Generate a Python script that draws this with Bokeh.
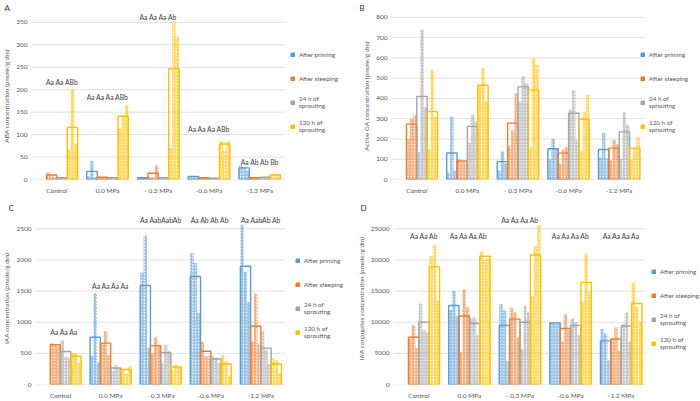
import math
from bokeh.plotting import figure
from bokeh.models import (ColumnDataSource, Range1d, FixedTicker, Legend, LegendItem, LabelSet)
from bokeh.layouts import column, row
from bokeh.embed import file_html
from bokeh.resources import INLINE
from bokeh.core.properties import value

nan = float("nan")
N3 = [nan, nan, nan]

categories = ["Control", "0.0 MPa", "- 0.3 MPa", "-0.6 MPa", "-1.2 MPa"]
series = ["After priming", "After steeping", "24 h of\nsprouting", "120 h of\nsprouting"]
colors = ["#5B9BD5", "#ED7D31", "#A5A5A5", "#FFC000"]

# ---- Panel A: ABA ----
aba_mean_priming = [nan, 18, 4, 7, 26]
aba_mean_steeping = [10, 5, 14, 4, 4]
aba_mean_24h = [4, 4, 4, 3, 5]
aba_mean_120h = [116, 141, 247, 79, 10]
aba_reps_priming = [N3, [8, 41, 5], [4, 4, 4], [8, 7, 6], [32, 27, 20]]
aba_reps_steeping = [[16, 9, 5], [6, 5, 4], [6, 5, 31], [4, 4, 4], [4, 4, 4]]
aba_reps_24h = [[4, 4, 4], [4, 4, 4], [4, 4, 4], [3, 3, 3], [5, 5, 5]]
aba_reps_120h = [[67, 201, 80], [114, 143, 166], [70, 352, 318], [86, 65, 86], [10, 10, 10]]
aba_letters = ["Aa Aa ABb", "Aa Aa Aa ABb", "Aa Aa Aa Ab", "Aa Aa Aa ABb", "Aa Ab Ab Bb"]
aba_letter_y = [218, 184, 362, 112, 39]

# ---- Panel B: active GA ----
ga_mean_priming = [nan, 131, 88, 152, 148]
ga_mean_steeping = [273, 92, 278, 130, 155]
ga_mean_24h = [410, 262, 457, 327, 235]
ga_mean_120h = [335, 465, 442, 297, 155]
ga_reps_priming = [N3, [35, 310, 45], [45, 140, 80], [100, 200, 156], [110, 230, 105]]
ga_reps_steeping = [[200, 300, 320], [100, 90, 88], [165, 243, 425], [80, 148, 162], [95, 195, 175]]
ga_reps_24h = [[135, 740, 355], [180, 320, 286], [385, 510, 475], [345, 440, 196], [103, 332, 270]]
ga_reps_120h = [[150, 540, 310], [460, 550, 385], [160, 600, 565], [140, 333, 418], [100, 155, 210]]

# ---- Panel C: IAA ----
iaa_mean_priming = [nan, 760, 1590, 1735, 1900]
iaa_mean_steeping = [640, 665, 625, 535, 935]
iaa_mean_24h = [530, 265, 510, 410, 585]
iaa_mean_120h = [455, 240, 280, 330, 330]
iaa_reps_priming = [N3, [460, 1465, 355], [1800, 2396, 585], [2112, 1951, 1144], [2565, 1810, 1325]]
iaa_reps_steeping = [[660, 640, 625], [665, 860, 470], [500, 760, 615], [690, 455, 460], [690, 1460, 655]]
iaa_reps_24h = [[710, 450, 430], [220, 310, 265], [350, 640, 540], [460, 420, 345], [865, 560, 330]]
iaa_reps_120h = [[515, 500, 350], [250, 175, 295], [230, 320, 290], [465, 375, 150], [420, 390, 180]]
iaa_letters = ["Aa  Aa  Aa", "Aa Aa Aa Aa", "Aa AabAabAb", "Aa  Ab Ab Ab", "Aa AabAb Ab"]
iaa_letter_y = [844, 1579, 2645, 2645, 2645]

# ---- Panel D: IAA conjugates ----
conj_mean_priming = [nan, 12700, 9500, 9900, 7000]
conj_mean_steeping = [7600, 11000, 10500, 9000, 7300]
conj_mean_24h = [10000, 9800, 10000, 9500, 9400]
conj_mean_120h = [18900, 20600, 20800, 16400, 13000]
conj_reps_priming = [N3, [12000, 15000, 11100], [12900, 11900, 3700], [10000, 9800, 9900], [8900, 8200, 3900]]
conj_reps_steeping = [[7300, 9600, 5900], [5200, 15300, 12400], [12300, 11600, 7600], [6900, 11300, 8800], [7300, 9200, 5400]]
conj_reps_24h = [[13000, 8700, 8300], [10700, 10800, 7900], [5700, 12700, 11600], [10600, 10000, 7900], [9700, 11600, 6900]]
conj_reps_120h = [[20600, 22500, 13500], [21500, 20000, 20300], [14200, 22200, 25600], [13300, 21000, 14900], [16400, 12500, 10100]]
conj_letters = ["Aa Aa Ab", "Aa Aa  Aa Ab", "Aa Aa Aa Ab", "Aa Aa Aa Ab", "Aa Aa Aa Aa"]
conj_letter_y = [23900, 23900, 26450, 23900, 23900]

FONT = "Lato"
BAR_W = 0.205
OFFS = [(j - 1.5) * BAR_W for j in range(4)]
NCAT = len(categories)


def make_panel(tag, ylabel, ymax, ystep, yend, means, reps, letters, letter_y, geom):
    (fw, fh, bl, bt, bb, cat_right, leg_x, leg_y, tag_off) = geom
    # frame spans to the figure's right edge; the category area ends at cat_right,
    # the remaining strip holds the legend
    x_end = NCAT - 0.5 + (fw - cat_right) * NCAT / (cat_right - bl)
    p = figure(width=fw, height=fh, x_range=Range1d(-0.5, x_end), y_range=Range1d(0, yend),
               output_backend="svg", toolbar_location=None, min_border=0,
               min_border_left=bl, min_border_right=0, min_border_top=bt, min_border_bottom=bb)
    p.outline_line_color = None
    p.xgrid.grid_line_color = None
    p.ygrid.grid_line_color = None

    ticks = list(range(0, ymax + 1, ystep))
    p.segment(x0=[-0.5] * len(ticks), x1=[NCAT - 0.5] * len(ticks), y0=ticks, y1=ticks,
              line_color="#D9D9D9", line_width=0.8)

    p.title.text = tag
    p.title.align = "left"
    p.title.offset = tag_off
    p.title.standoff = 0
    p.title.text_font = FONT
    p.title.text_font_size = "8px"
    p.title.text_font_style = "normal"
    p.title.text_color = "#333333"

    p.yaxis.ticker = FixedTicker(ticks=ticks)
    p.xaxis.ticker = FixedTicker(ticks=list(range(NCAT)))
    p.xaxis.major_label_overrides = {i: c for i, c in enumerate(categories)}
    for ax in (p.xaxis[0], p.yaxis[0]):
        ax.major_tick_line_color = None
        ax.minor_tick_line_color = None
        ax.major_tick_out = 0
        ax.major_tick_in = 0
        ax.minor_tick_out = 0
        ax.minor_tick_in = 0
        ax.axis_line_color = None
        ax.major_label_text_font = FONT
        ax.major_label_text_font_size = "6.5px"
        ax.major_label_text_color = "#595959"
        ax.major_label_standoff = 4
    p.xaxis.major_label_standoff = 7
    p.xaxis.axis_label_standoff = 0
    p.yaxis.axis_label = ylabel
    p.yaxis.axis_label_text_font = FONT
    p.yaxis.axis_label_text_font_size = "6.5px"
    p.yaxis.axis_label_text_font_style = "normal"
    p.yaxis.axis_label_text_color = "#595959"
    p.yaxis.axis_label_standoff = 3

    items = []
    for j, (name, col) in enumerate(zip(series, colors)):
        mvals = means[j]
        rvals = reps[j]
        mx, mt, rx, rt = [], [], [], []
        for i in range(NCAT):
            if math.isnan(mvals[i]):
                continue
            mx.append(i + OFFS[j])
            mt.append(mvals[i])
            for k, rv in enumerate(rvals[i]):
                rx.append(i + OFFS[j] + (k - 1) * BAR_W / 3)
                rt.append(rv)
        p.vbar(x=rx, top=rt, width=BAR_W / 3, fill_alpha=0, line_color=None,
               hatch_pattern="/", hatch_color=col, hatch_scale=3.2, hatch_weight=1.0, hatch_alpha=0.85)
        p.vbar(x=mx, top=mt, width=BAR_W, fill_color=None, line_color=col, line_width=1.4)
        # legend swatch only (a single NaN bar is never drawn in the plot)
        proxy = p.vbar(x=[nan], top=[nan], width=BAR_W, fill_color=col, line_color=col)
        items.append(LegendItem(label=name, renderers=[proxy]))

    leg = Legend(items=items, location=(leg_x, leg_y), border_line_color=None,
                 background_fill_alpha=0, padding=0, margin=0, spacing=8, label_height=16,
                 glyph_width=5, glyph_height=5, label_standoff=4,
                 label_text_font=FONT, label_text_font_size="6.3px", label_text_color="#595959",
                 label_text_line_height=1.2)
    p.add_layout(leg)

    if letters is not None:
        lx = []
        for i in range(NCAT):
            present = [i + OFFS[j] for j in range(4) if not math.isnan(means[j][i])]
            lx.append(sum(present) / len(present))
        src = ColumnDataSource(dict(x=lx, y=letter_y, t=letters))
        p.add_layout(LabelSet(x="x", y="y", text="t", source=src, text_align="center",
                              text_baseline="middle", text_font=value(FONT),
                              text_font_size="6.8px", text_color="#404040"))
    return p


pA = make_panel("A", "ABA concentration (pmole/g dm)", 350, 50, 372,
                [aba_mean_priming, aba_mean_steeping, aba_mean_24h, aba_mean_120h],
                [aba_reps_priming, aba_reps_steeping, aba_reps_24h, aba_reps_120h],
                aba_letters, aba_letter_y,
                (350, 200, 28, 0, 21, 284, 259, 45, -27))
pB = make_panel("B", "Active GA concentration (pmole/g dm)", 800, 100, 824,
                [ga_mean_priming, ga_mean_steeping, ga_mean_24h, ga_mean_120h],
                [ga_reps_priming, ga_reps_steeping, ga_reps_24h, ga_reps_120h],
                None, None,
                (350, 200, 41, 0, 20, 294, 249, 45, -32))
pC = make_panel("C", "IAA concentration (pmole/g dm)", 2500, 500, 2763,
                [iaa_mean_priming, iaa_mean_steeping, iaa_mean_24h, iaa_mean_120h],
                [iaa_reps_priming, iaa_reps_steeping, iaa_reps_24h, iaa_reps_120h],
                iaa_letters, iaa_letter_y,
                (350, 201, 28, 0, 15, 284, 260, 44, -27))
pD = make_panel("D", "IAA conjugates concentration (pmole/g dm)", 25000, 5000, 27630,
                [conj_mean_priming, conj_mean_steeping, conj_mean_24h, conj_mean_120h],
                [conj_reps_priming, conj_reps_steeping, conj_reps_24h, conj_reps_120h],
                conj_letters, conj_letter_y,
                (350, 201, 43, 0, 15, 296, 258, 33, -33))

layout = column(row(pA, pB), row(pC, pD))
open("out.html", "w").write(file_html(layout, INLINE))
